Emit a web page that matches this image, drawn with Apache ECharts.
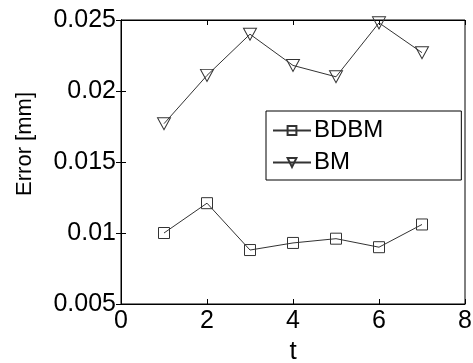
<!DOCTYPE html>
<html>
<head>
<meta charset="utf-8">
<script src="https://cdn.jsdelivr.net/npm/echarts@6/dist/echarts.min.js"></script>
<style>html,body{margin:0;padding:0;background:#fff}#c{width:473px;height:363px}</style>
</head>
<body>
<div id="c"></div>
<script>
var tValues = [1, 2, 3, 4, 5, 6, 7];
var bdbm = [0.0100, 0.0121, 0.0088, 0.0093, 0.0096, 0.0090, 0.0106];
var bm = [0.0177, 0.0211, 0.0240, 0.0218, 0.0210, 0.0248, 0.0227];
var xTicks = [0, 2, 4, 6, 8];
var yTicks = [0.005, 0.01, 0.015, 0.02, 0.025];
var yTitle = 'Error [mm]';
var xTitle = 't';

var font = 'Arial, "Liberation Sans", sans-serif';
function pairs(ys) { return tValues.map(function (t, i) { return [t, ys[i]]; }); }
var triPath = 'path://M0,0 L12,0 L6,11 Z';

var chart = echarts.init(document.getElementById('c'), null, {renderer: 'canvas'});
var tickStyle = {show: true, inside: true, length: 5, lineStyle: {color: '#000', width: 1}};
chart.setOption({
  animation: false,
  backgroundColor: '#fff',
  grid: {left: 121, top: 20, right: 8, bottom: 59, containLabel: false, outerBoundsMode: 'none',
         show: true, borderColor: '#000', borderWidth: 1, backgroundColor: 'transparent'},
  legend: {
    orient: 'vertical', left: 266, top: 111,
    borderColor: '#000', borderWidth: 1, backgroundColor: '#fff',
    padding: [6, 78, 4, 6], itemGap: 5, itemWidth: 38, itemHeight: 11,
    textStyle: {fontFamily: font, fontSize: 24, lineHeight: 27, color: '#000', padding: [0, 0, 0, -2]},
    data: ['BDBM', 'BM']
  },
  graphic: [{
    type: 'text', left: 14, top: 92,
    style: {text: yTitle, fontFamily: font, fontSize: 22, fill: '#000'},
    rotation: Math.PI / 2, originX: 0, originY: 0
  }],
  xAxis: [{
    type: 'value', min: xTicks[0], max: xTicks[xTicks.length - 1], interval: 2,
    name: xTitle, nameLocation: 'middle', nameGap: 31,
    nameTextStyle: {fontFamily: font, fontSize: 26, color: '#000'},
    axisLine: {show: true, lineStyle: {color: '#000'}},
    axisTick: tickStyle, splitLine: {show: false},
    axisLabel: {fontFamily: font, fontSize: 25, color: '#000', margin: 5}
  }, {
    type: 'value', position: 'top', min: xTicks[0], max: xTicks[xTicks.length - 1], interval: 2,
    axisLine: {show: true, lineStyle: {color: '#000'}},
    axisTick: tickStyle, splitLine: {show: false}, axisLabel: {show: false}
  }],
  yAxis: [{
    type: 'value', min: yTicks[0], max: yTicks[yTicks.length - 1], interval: 0.005,
    axisLine: {show: true, lineStyle: {color: '#000'}},
    axisTick: tickStyle, splitLine: {show: false},
    axisLabel: {fontFamily: font, fontSize: 25, color: '#000', margin: 5,
      formatter: function (v) { return String(+v.toFixed(3)); }}
  }, {
    type: 'value', position: 'right', min: yTicks[0], max: yTicks[yTicks.length - 1], interval: 0.005,
    axisLine: {show: true, lineStyle: {color: '#000'}},
    axisTick: tickStyle, splitLine: {show: false}, axisLabel: {show: false}
  }],
  series: [{
    name: 'BDBM', type: 'line', data: pairs(bdbm),
    symbol: 'rect', symbolSize: 11, showAllSymbol: true,
    lineStyle: {color: '#333', width: 1},
    itemStyle: {color: 'rgba(255,255,255,0)', borderColor: '#333', borderWidth: 1},
    clip: false
  }, {
    name: 'BM', type: 'line', data: pairs(bm),
    symbol: triPath, symbolSize: [13, 12], showAllSymbol: true,
    lineStyle: {color: '#333', width: 1},
    itemStyle: {color: 'rgba(255,255,255,0)', borderColor: '#333', borderWidth: 1},
    clip: false
  }]
});
</script>
</body>
</html>
